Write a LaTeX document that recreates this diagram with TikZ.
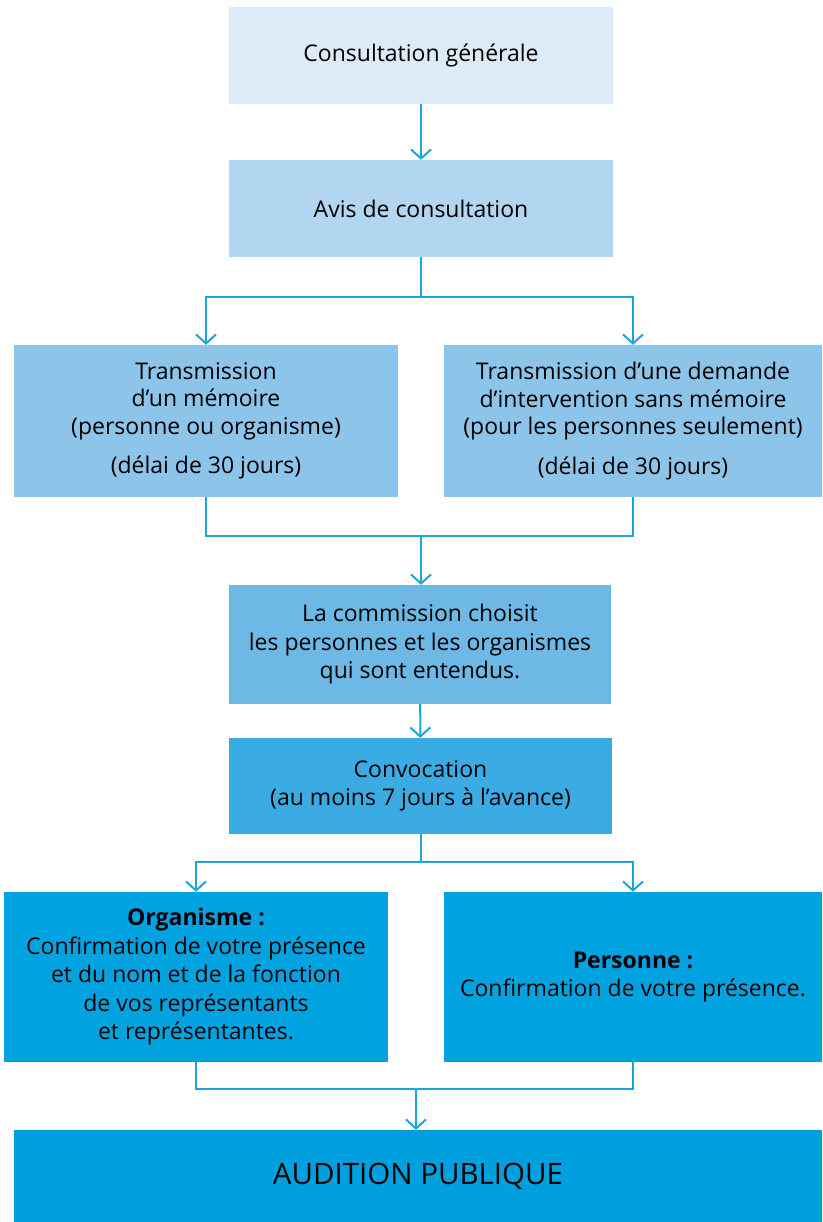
\documentclass[tikz,border=0pt]{standalone}
\usepackage{fontspec}
\setmainfont{Open Sans}
\usetikzlibrary{arrows.meta}
\definecolor{c1}{HTML}{DDEBF8}
\definecolor{c2}{HTML}{B2D5F0}
\definecolor{c3}{HTML}{8CC4EA}
\definecolor{c4}{HTML}{6EB8E6}
\definecolor{c5}{HTML}{3BABE3}
\definecolor{c6}{HTML}{00A3DF}
\definecolor{c7}{HTML}{00A0DE}
\definecolor{ln}{HTML}{1AA5DF}
\begin{document}
\begin{tikzpicture}[x=1pt,y=-1pt,
  box/.style={inner sep=0pt, align=center, font=\fontsize{23}{28.5}\selectfont, text=black},
  conn/.style={draw=ln, line width=2pt},
  arr/.style={conn, -{Straight Barb[length=9pt,width=20pt,line width=2pt]}}]
\useasboundingbox (0,0) rectangle (822,1222);
\node[box, fill=c1, minimum width=384pt, minimum height=97pt] (cg) at (421,55.5) {Consultation générale};
\node[box, fill=c2, minimum width=384pt, minimum height=97pt] (avis) at (421,208.5) {Avis de consultation};
\node[box, fill=c3, minimum width=384pt, minimum height=152pt, font=\fontsize{23}{27.5}\selectfont] (tl) at (206,421) {Transmission\\d’un mémoire\\(personne ou organisme)\\[12pt](délai de 30 jours)};
\node[box, fill=c3, minimum width=378pt, minimum height=152pt, font=\fontsize{23}{27.5}\selectfont] (tr) at (633,421) {Transmission d’une demande\\d’intervention sans mémoire\\(pour les personnes seulement)\\[12pt](délai de 30 jours)};
\node[box, fill=c4, minimum width=382pt, minimum height=119pt] (com) at (420,644.5) {La commission choisit\\les personnes et les organismes\\qui sont entendus.};
\node[box, fill=c5, minimum width=383pt, minimum height=96pt] (conv) at (420.5,786) {Convocation\\(au moins 7 jours à l’avance)};
\node[box, fill=c6, minimum width=384pt, minimum height=170pt] (org) at (196,977) {\textbf{Organisme :}\\Confirmation de votre présence\\et du nom et de la fonction\\de vos représentants\\et représentantes.};
\node[box, fill=c6, minimum width=378pt, minimum height=170pt] (pers) at (633,977) {\textbf{Personne :}\\Confirmation de votre présence.};
\node[box, fill=c7, minimum width=808pt, minimum height=92pt, font=\fontsize{29.5}{34}\selectfont] (aud) at (418,1176) {AUDITION PUBLIQUE};
\coordinate (s1) at (421,297);
\coordinate (m1) at (421,536);
\coordinate (s2) at (421,862);
\coordinate (m2) at (416,1089);
\draw[arr] (cg) -- (avis);
\draw[conn] (avis.south -| s1) -- (s1);
\draw[arr] (s1) -| (tl.north);
\draw[arr] (s1) -| (tr.north);
\draw[conn] (tl.south) |- (m1) -| (tr.south);
\draw[arr] (m1) -- (m1 |- com.north);
\draw[arr] (com) -- (conv);
\draw[conn] (conv.south -| s2) -- (s2);
\draw[arr] (s2) -| (org.north);
\draw[arr] (s2) -| (pers.north);
\draw[conn] (org.south) |- (m2) -| (pers.south);
\draw[arr] (m2) -- (m2 |- aud.north);
\end{tikzpicture}
\end{document}
